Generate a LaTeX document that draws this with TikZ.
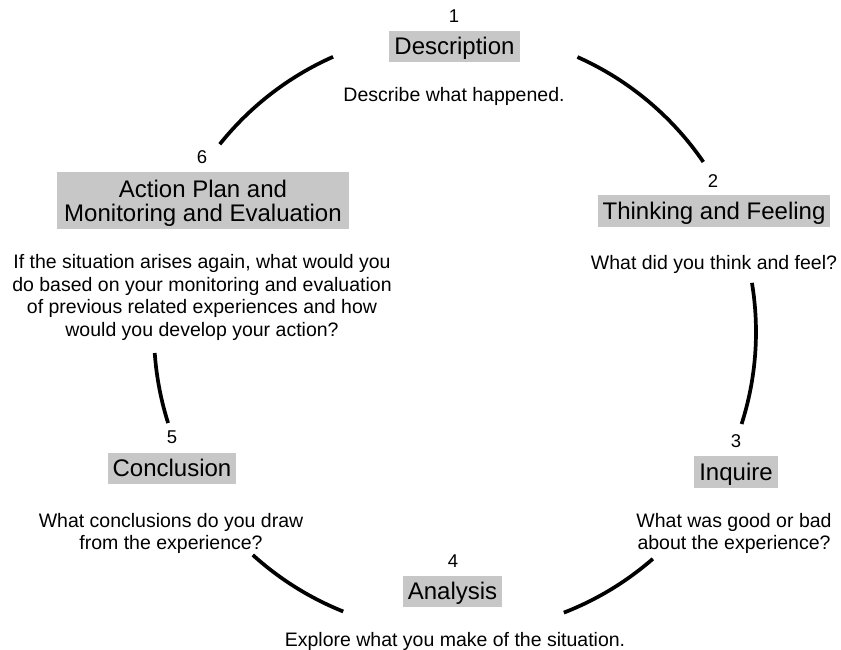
\documentclass[tikz,border=0pt]{standalone}
\usepackage{fontspec}
\setmainfont{Liberation Sans}
\definecolor{stagegray}{RGB}{199,199,199}
\tikzset{
  stagefill/.style={fill=stagegray, inner ysep=0pt, font=\fontsize{24}{24.3}\selectfont},
  stagebox/.style={stagefill, inner xsep=5pt, text height=24pt, text depth=7.5pt, anchor=base},
  stagenum/.style={font=\fontsize{18.5}{18.5}\selectfont, anchor=base, inner sep=0pt},
  stagetext/.style={font=\fontsize{19.5}{22.7}\selectfont, align=center, inner sep=0pt},
  cyclearc/.style={line width=3.7pt},
}
\begin{document}
\begin{tikzpicture}[x=1pt,y=-1pt]
\useasboundingbox (0,0) rectangle (841,650);
\coordinate (O) at (455,332);

% 1 - Description
\node[stagenum] (n1) at (454,23) {1};
\node[stagebox] (s1) at (454.5,55) {Description};
\node[stagetext, anchor=base] (d1) at (454,102) {Describe what happened.};

% 2 - Thinking and Feeling
\node[stagenum] (n2) at (713,187) {2};
\node[stagebox] (s2) at (714,219) {Thinking and Feeling};
\node[stagetext, anchor=base] (d2) at (714,269) {What did you think and feel?};

% 3 - Inquire
\node[stagenum] (n3) at (736,447) {3};
\node[stagebox] (s3) at (736,480) {Inquire};
\node[stagetext] (d3) at (734,533.5) {What was good or bad\\about the experience?};

% 4 - Analysis
\node[stagenum] (n4) at (453,567) {4};
\node[stagebox] (s4) at (452.5,599.5) {Analysis};
\node[stagetext, anchor=base] (d4) at (455,646) {Explore what you make of the situation.};

% 5 - Conclusion
\node[stagenum] (n5) at (172,443) {5};
\node[stagebox] (s5) at (172,476.5) {Conclusion};
\node[stagetext] (d5) at (171,533.5) {What conclusions do you draw\\from the experience?};

% 6 - Action Plan and Monitoring and Evaluation
\node[stagenum] (n6) at (202,164) {6};
\node[stagefill, inner xsep=7pt, minimum height=57pt, align=center] (s6) at (203,200.5)
  {Action Plan and\\\smash{Monitoring and Evaluation}};
\node[stagetext] (d6) at (202,297.4)
  {If the situation arises again, what would you\\do based on your monitoring and evaluation\\of previous related experiences and how\\would you develop your action?};

% arcs of the cycle, all on one circle around O
\draw[cyclearc] (O) ++(-141.4:301) arc[start angle=-141.4, end angle=-113.9, radius=301];
\draw[cyclearc] (O) ++(-66:301) arc[start angle=-66, end angle=-34.4, radius=301];
\draw[cyclearc] (O) ++(-9.4:301) arc[start angle=-9.4, end angle=17.8, radius=301];
\draw[cyclearc] (O) ++(48.9:301) arc[start angle=48.9, end angle=68.8, radius=301];
\draw[cyclearc] (O) ++(111.8:301) arc[start angle=111.8, end angle=132.2, radius=301];
\draw[cyclearc] (O) ++(162.4:301) arc[start angle=162.4, end angle=176, radius=301];
\end{tikzpicture}
\end{document}
